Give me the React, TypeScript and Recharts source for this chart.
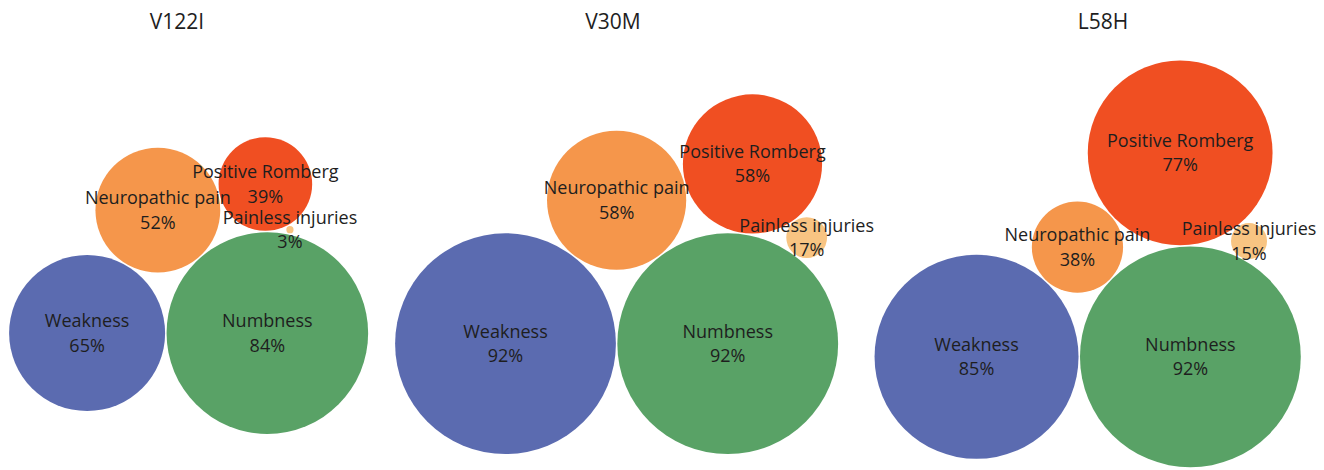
import { ScatterChart, Scatter, XAxis, YAxis } from 'recharts';

const variants = ['V122I', 'V30M', 'L58H'];
const symptoms = ['Weakness', 'Numbness', 'Neuropathic pain', 'Positive Romberg', 'Painless injuries'];
const v122iValues = [65, 84, 52, 39, 3];
const v30mValues = [92, 92, 58, 58, 17];
const l58hValues = [85, 92, 38, 77, 15];
const symptomColors = ['#5b6bb0', '#59a266', '#f5964b', '#f04f22', '#f8c482'];

const WIDTH = 1324;
const HEIGHT = 470;
const PX_PER_UNIT = 1.2; // bubble radius in px per percentage point
const GAP = 1.2; // spacing between bubbles, in units
const CENTER_Y = 297; // where the area-weighted centre of each group sits
const groupCentersX = [199, 638, 1115];
const titleCentersX = [177, 613, 1103];

type Bubble = { name: string; value: number; x: number; y: number; fill: string };

// circle of radius r touching p and q, on the left side of the p -> q direction
function touch(p: Bubble, q: Bubble, r: number) {
  const dx = q.x - p.x;
  const dy = q.y - p.y;
  const d = Math.hypot(dx, dy);
  const d1 = p.value + r + GAP;
  const d2 = q.value + r + GAP;
  const a = (d1 * d1 - d2 * d2 + d * d) / (2 * d);
  const h = Math.sqrt(Math.max(d1 * d1 - a * a, 0));
  const ux = dx / d;
  const uy = dy / d;
  return { x: p.x + a * ux - h * uy, y: p.y + a * uy + h * ux };
}

function pack(values: number[]): Bubble[] {
  const b = values.map((v, i) => ({ name: symptoms[i], value: v, x: 0, y: 0, fill: symptomColors[i] }));
  b[1].x = b[0].value + b[1].value + GAP;
  Object.assign(b[2], touch(b[0], b[1], b[2].value));
  Object.assign(b[3], touch(b[2], b[1], b[3].value));
  Object.assign(b[4], touch(b[3], b[1], b[4].value));
  return b;
}

const BubbleShape = (props: any) => {
  const { cx, cy, payload } = props;
  return <circle cx={cx} cy={cy} r={payload.value * PX_PER_UNIT} fill={payload.fill} />;
};

const BubbleLabel = (props: any) => {
  const { cx, cy, payload } = props;
  const font = { textAnchor: 'middle' as const, fontSize: 18, fill: '#1e1e1e', fontFamily: "'Open Sans', sans-serif" };
  return (
    <g>
      <text x={cx} y={cy - 6} {...font}>{payload.name}</text>
      <text x={cx} y={cy + 18.5} {...font}>{payload.value}%</text>
    </g>
  );
};

function Panel({ title, values, centerX, titleX }: { title: string; values: number[]; centerX: number; titleX: number }) {
  const data = pack(values);
  const w = data.reduce((s, d) => s + d.value * d.value, 0);
  const gx = data.reduce((s, d) => s + d.x * d.value * d.value, 0) / w;
  const gy = data.reduce((s, d) => s + d.y * d.value * d.value, 0) / w;
  const xMin = gx - centerX / PX_PER_UNIT;
  const xMax = xMin + WIDTH / PX_PER_UNIT;
  const yMax = gy + CENTER_Y / PX_PER_UNIT;
  const yMin = yMax - HEIGHT / PX_PER_UNIT;

  return (
    <>
      <div style={{ position: 'absolute', left: 0, top: 0 }}>
        <ScatterChart width={WIDTH} height={HEIGHT} margin={{ top: 0, right: 0, bottom: 0, left: 0 }}>
          <XAxis type="number" dataKey="x" domain={[xMin, xMax]} allowDataOverflow hide />
          <YAxis type="number" dataKey="y" domain={[yMin, yMax]} allowDataOverflow hide />
          <Scatter data={data} shape={BubbleShape} isAnimationActive={false} />
          <Scatter data={data} shape={BubbleLabel} isAnimationActive={false} />
        </ScatterChart>
      </div>
      <div
        style={{
          position: 'absolute',
          top: 7,
          left: titleX - 100,
          width: 200,
          textAlign: 'center',
          fontSize: 21,
          color: '#1e1e1e',
          fontFamily: "'Open Sans', sans-serif",
        }}
      >
        {title}
      </div>
    </>
  );
}

export default function App() {
  const series = [v122iValues, v30mValues, l58hValues];
  return (
    <div style={{ position: 'absolute', left: 0, top: 0, width: WIDTH, height: HEIGHT, background: '#fff' }}>
      {variants.map((v, i) => (
        <Panel key={v} title={v} values={series[i]} centerX={groupCentersX[i]} titleX={titleCentersX[i]} />
      ))}
    </div>
  );
}
